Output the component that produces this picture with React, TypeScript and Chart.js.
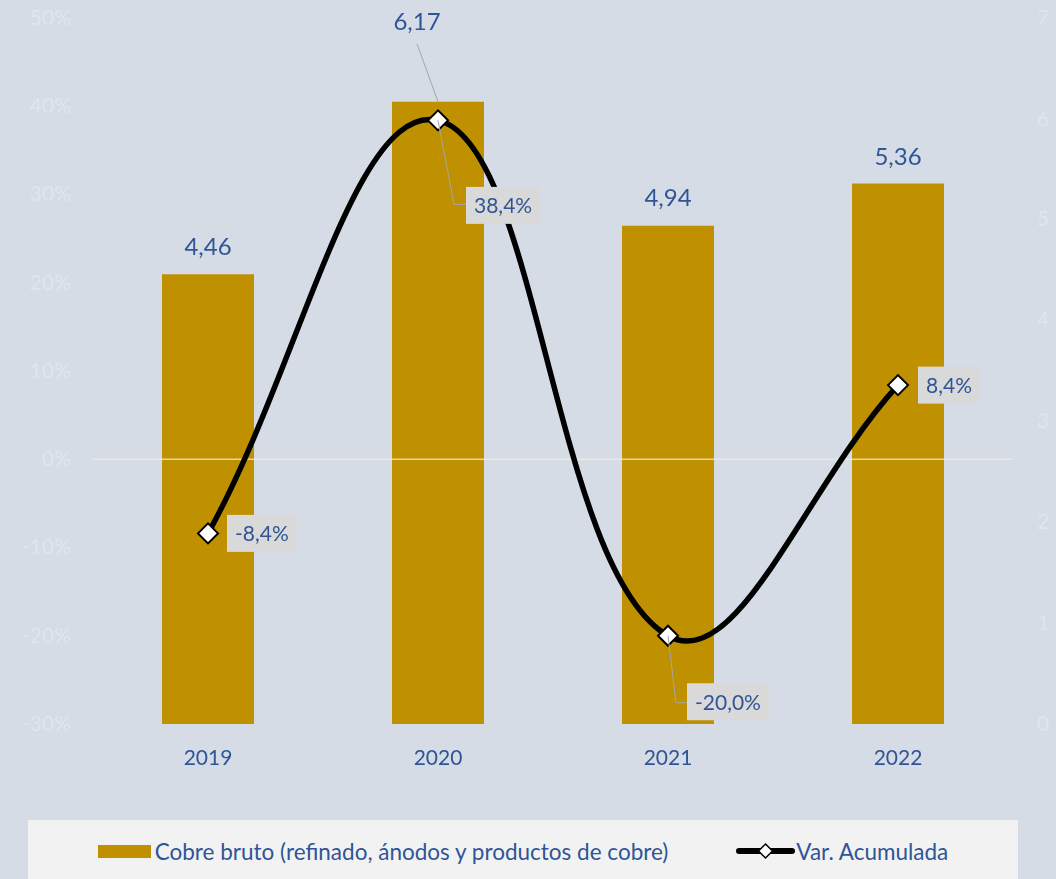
import React, { useEffect, useRef } from "react";
import { Chart, registerables } from "chart.js";

Chart.register(...registerables);

const categories = ["2019", "2020", "2021", "2022"];
const cobreBruto = [4.46, 6.17, 4.94, 5.36];
const varAcumulada = [-8.4, 38.4, -20.0, 8.4];
const leftTicks = { min: -30, max: 50, step: 10 };
const rightTicks = { min: 0, max: 7, step: 1 };

const FONT = "Lato";
const BLUE = "#2f5597";
const GOLD = "#bf9000";

const fmt = (v: number, d: number) => v.toFixed(d).replace(".", ",");

// label placement (relative to the mark)
const barLabelPlace = [
  { dx: 0, dy: -27, leader: false },
  { dx: -21, dy: -79, leader: true },
  { dx: 0, dy: -28, leader: false },
  { dx: 0, dy: -26, leader: false },
];
const lineLabelPlace = [
  { dx: 19, dy: 0, leader: null as null | number[] },
  { dx: 28, dy: 85, leader: [16, 84] },
  { dx: 19, dy: 66, leader: [8, 67] },
  { dx: 20, dy: 0, leader: null as null | number[] },
];

const labelPlugin = {
  id: "customLabels",
  afterDatasetDraw(chart: any, args: any) {
    if (args.meta.type !== "bar") return;
    const ctx = chart.ctx;
    const y = chart.scales.y.getPixelForValue(0);
    const { left, right } = chart.chartArea;
    ctx.save();
    ctx.strokeStyle = "rgba(246,238,215,0.75)";
    ctx.lineWidth = 1.5;
    ctx.beginPath();
    ctx.moveTo(left, y);
    ctx.lineTo(right, y);
    ctx.stroke();
    ctx.restore();
  },
  afterDatasetsDraw(chart: any) {
    const ctx = chart.ctx;
    ctx.save();
    const barMeta = chart.getDatasetMeta(1);
    ctx.font = `24px ${FONT}`;
    ctx.textAlign = "center";
    ctx.textBaseline = "middle";
    barMeta.data.forEach((el: any, i: number) => {
      const p = barLabelPlace[i];
      const tx = el.x + p.dx;
      const ty = el.y + p.dy;
      if (p.leader) {
        ctx.strokeStyle = "#a6a6a6";
        ctx.lineWidth = 1;
        ctx.beginPath();
        ctx.moveTo(tx, ty + 21);
        ctx.lineTo(el.x, el.y);
        ctx.stroke();
      }
      ctx.fillStyle = BLUE;
      ctx.fillText(fmt(cobreBruto[i], 2), tx, ty);
    });
    const lineMeta = chart.getDatasetMeta(0);
    ctx.font = `21px ${FONT}`;
    lineMeta.data.forEach((el: any, i: number) => {
      const p = lineLabelPlace[i];
      const text = fmt(varAcumulada[i], 1) + "%";
      const w = ctx.measureText(text).width + 16;
      const h = 37;
      const bx = el.x + p.dx;
      const cy = el.y + p.dy;
      if (p.leader) {
        ctx.strokeStyle = "#a6a6a6";
        ctx.lineWidth = 1;
        ctx.beginPath();
        ctx.moveTo(el.x, el.y);
        ctx.lineTo(el.x + p.leader[0], el.y + p.leader[1]);
        ctx.lineTo(bx, el.y + p.leader[1]);
        ctx.stroke();
      }
      ctx.fillStyle = "#d9d9d9";
      ctx.fillRect(bx, cy - h / 2, w, h);
      ctx.fillStyle = BLUE;
      ctx.textAlign = "center";
      ctx.fillText(text, bx + w / 2, cy + 1);
    });
    ctx.restore();
  },
};

export default function App() {
  const ref = useRef<HTMLCanvasElement | null>(null);

  useEffect(() => {
    document.body.style.margin = "0";
    if (!ref.current) return;
    const chart = new Chart(ref.current, {
      type: "bar",
      data: {
        labels: categories,
        datasets: [
          {
            type: "line",
            label: "Var. Acumulada",
            data: varAcumulada,
            yAxisID: "y",
            borderColor: "#000000",
            borderWidth: 5.5,
            tension: 0.4,
            pointStyle: "rectRot",
            pointRadius: 10,
            pointBackgroundColor: "#ffffff",
            pointBorderColor: "#000000",
            pointBorderWidth: 2,
            order: 1,
          } as any,
          {
            type: "bar",
            label: "Cobre bruto (refinado, ánodos y productos de cobre)",
            data: cobreBruto,
            yAxisID: "y1",
            backgroundColor: GOLD,
            categoryPercentage: 1,
            barPercentage: 0.4,
            order: 2,
          },
        ],
      },
      options: {
        animation: false,
        responsive: true,
        maintainAspectRatio: false,
        layout: { padding: { top: 18, left: 0, right: 0, bottom: 0 } },
        plugins: {
          legend: { display: false },
          tooltip: { enabled: false },
        },
        scales: {
          x: {
            grid: { display: false, drawTicks: false },
            border: { display: false },
            ticks: {
              color: BLUE,
              font: { family: FONT, size: 21 },
              padding: 22,
            },
            afterFit: (s: any) => {
              s.height = 96;
            },
          },
          y: {
            position: "left",
            min: leftTicks.min,
            max: leftTicks.max,
            grid: { display: false, drawTicks: false },
            border: { display: false },
            ticks: {
              stepSize: leftTicks.step,
              color: "#dde5f3",
              font: { family: FONT, size: 21 },
              padding: 22,
              callback: (v: any) => `${v}%`,
            },
            afterFit: (s: any) => {
              s.width = 93;
              s.paddingTop = 0;
              s.paddingBottom = 0;
            },
          },
          y1: {
            position: "right",
            min: rightTicks.min,
            max: rightTicks.max,
            grid: { display: false, drawTicks: false },
            border: { display: false },
            ticks: {
              stepSize: rightTicks.step,
              color: "#dde5f3",
              font: { family: FONT, size: 21 },
              padding: 24,
            },
            afterFit: (s: any) => {
              s.width = 43;
              s.paddingTop = 0;
              s.paddingBottom = 0;
            },
          },
        },
      },
      plugins: [labelPlugin],
    } as any);
    return () => chart.destroy();
  }, []);

  return (
    <div
      style={{
        position: "absolute",
        left: 0,
        top: 0,
        width: 1056,
        height: 879,
        background: "#d6dce5",
        overflow: "hidden",
      }}
    >
      <div style={{ position: "absolute", left: 0, top: 0, width: 1056, height: 820 }}>
        <canvas ref={ref} />
      </div>
      <div
        style={{
          position: "absolute",
          left: 28,
          top: 820,
          width: 990,
          height: 62,
          background: "#f2f2f2",
          display: "flex",
          alignItems: "center",
          justifyContent: "center",
          gap: 68,
          fontFamily: FONT,
          fontSize: 22.5,
          color: BLUE,
        }}
      >
        <div style={{ display: "flex", alignItems: "center" }}>
          <span
            style={{
              display: "inline-block",
              width: 53,
              height: 13,
              background: GOLD,
              marginRight: 4,
            }}
          />
          <span>Cobre bruto (refinado, ánodos y productos de cobre)</span>
        </div>
        <div style={{ display: "flex", alignItems: "center" }}>
          <svg width="59" height="22" style={{ marginRight: 1 }}>
            <line x1="3" y1="11" x2="56" y2="11" stroke="#000" strokeWidth="6" strokeLinecap="round" />
            <path d="M29.5 4 L36.5 11 L29.5 18 L22.5 11 Z" fill="#fff" stroke="#000" strokeWidth="1.5" />
          </svg>
          <span>Var. Acumulada</span>
        </div>
      </div>
    </div>
  );
}
